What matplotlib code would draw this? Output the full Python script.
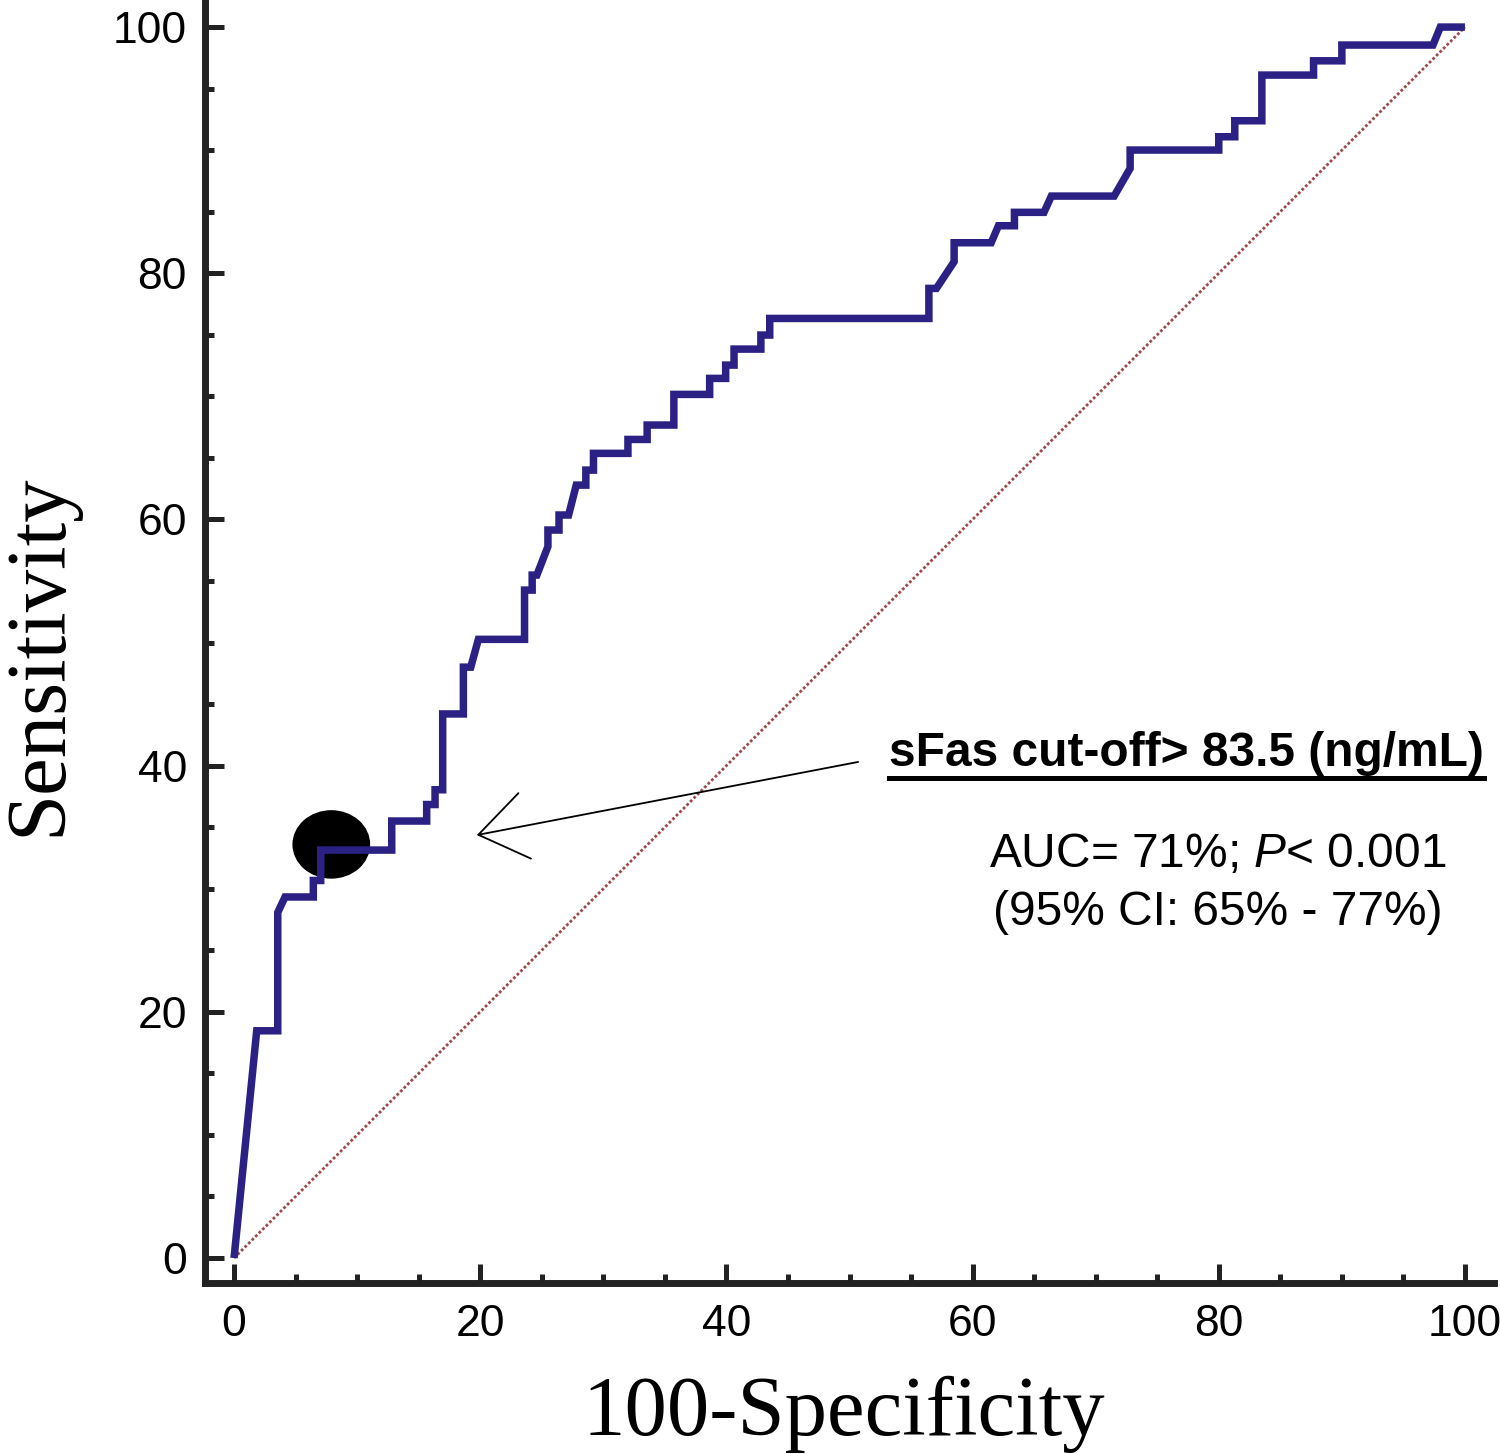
import matplotlib
matplotlib.use("Agg")
import matplotlib.pyplot as plt
from matplotlib.patches import Ellipse
from matplotlib.lines import Line2D

# ROC curve vertices (100-Specificity, Sensitivity)
fpr = [0, 1.84, 3.55, 3.55, 4.14, 6.44, 6.44, 7.04, 7.04, 12.81, 12.81, 15.65, 15.65,
       16.33, 16.33, 16.95, 16.95, 18.63, 18.63, 19.23, 19.85, 23.6, 23.6, 24.22, 24.22,
       24.6, 25.5, 25.5, 26.4, 26.4, 27.18, 27.8, 28.58, 28.58, 29.2, 29.2, 32.0, 32.0,
       33.56, 33.56, 35.73, 35.73, 38.64, 38.64, 39.94, 39.94, 40.62, 40.62, 42.8, 42.8,
       43.52, 43.52, 56.45, 56.45, 57.06, 58.5, 58.5, 61.51, 62.1, 63.4, 63.4, 65.8, 66.4,
       71.5, 72.8, 72.8, 80.0, 80.0, 81.3, 81.3, 83.5, 83.5, 87.7, 87.7, 90.0, 90.0, 97.4,
       98.0, 100.0]
tpr = [0, 18.46, 18.46, 28.07, 29.33, 29.33, 30.67, 30.67, 33.14, 33.14, 35.5, 35.5, 36.84,
       36.84, 38.04, 38.04, 44.2, 44.2, 48.0, 48.0, 50.26, 50.26, 54.26, 54.26, 55.48,
       55.48, 57.8, 59.14, 59.14, 60.36, 60.36, 62.79, 62.79, 64.01, 64.01, 65.37, 65.37,
       66.5, 66.5, 67.67, 67.67, 70.16, 70.16, 71.46, 71.46, 72.54, 72.54, 73.84, 73.84,
       74.98, 74.98, 76.33, 76.33, 78.77, 78.77, 80.94, 82.48, 82.48, 83.86, 83.86, 84.95,
       84.95, 86.27, 86.27, 88.52, 90.01, 90.01, 91.09, 91.09, 92.39, 92.39, 96.1, 96.1,
       97.26, 97.26, 98.54, 98.54, 100.0, 100.0]

ref_line = [0, 100]

# optimal cut-off point and annotation anchor
cutoff_x, cutoff_y = 7.9, 33.6
arrow_tip = (19.72, 34.36)
arrow_tail = (50.7, 40.3)

ticks_major = [0, 20, 40, 60, 80, 100]
ticks_minor = list(range(0, 101, 5))

title_text = "sFas cut-off> 83.5 (ng/mL)"
auc_text = "AUC= 71%; $P$< 0.001"
ci_text = "(95% CI: 65% - 77%)"

plt.rcParams['font.family'] = ['Liberation Sans', 'DejaVu Sans']
plt.rcParams['mathtext.fontset'] = 'custom'
plt.rcParams['mathtext.rm'] = 'Liberation Sans'
plt.rcParams['mathtext.it'] = 'Liberation Sans:italic'

W, H = 1500, 1454
fig = plt.figure(figsize=(W / 100, H / 100), dpi=100)
ax = fig.add_axes([205 / W, 171 / H, 1289 / W, 1283 / H])

ax.plot(ref_line, ref_line, color='#a04848', lw=2.0, linestyle=(0, (1, 0.8)), zorder=1)
ax.add_patch(Ellipse((cutoff_x, cutoff_y), width=6.2, height=5.45, color='black', zorder=2))
ax.plot(fpr, tpr, color='#2b2185', lw=5.4, solid_joinstyle='miter',
        solid_capstyle='butt', zorder=3)

ax.annotate('', xy=arrow_tip, xytext=arrow_tail,
            arrowprops=dict(arrowstyle='->,head_length=34,head_width=24',
                            mutation_scale=1, lw=1.3, color='black',
                            shrinkA=0, shrinkB=0))

ax.set_xlim(-2.36, 102.36)
ax.set_ylim(-2.03, 102.2)

for side in ['top', 'right']:
    ax.spines[side].set_visible(False)
for side in ['left', 'bottom']:
    ax.spines[side].set_linewidth(5)
    ax.spines[side].set_color('#222222')

ax.set_xticks(ticks_major)
ax.set_yticks(ticks_major)
ax.set_xticks(ticks_minor, minor=True)
ax.set_yticks(ticks_minor, minor=True)
ax.tick_params(which='major', direction='in', length=14, width=3.6, color='#222222',
               labelsize=32)
ax.tick_params(which='minor', direction='in', length=6.5, width=3.6, color='#222222')
ax.tick_params(axis='x', which='major', pad=15)
ax.tick_params(axis='y', which='major', pad=13)

ax.set_xlabel('100-Specificity', fontsize=61, family='Liberation Serif')
ax.xaxis.label.set_va('baseline')
ax.xaxis.set_label_coords(0.4957, -0.1185)
ax.set_ylabel('Sensitivity', fontsize=61, family='Liberation Serif')
ax.yaxis.label.set_va('baseline')
ax.yaxis.set_label_coords(-0.1125, 0.49)

t1 = ax.text(77.4, 40.0, title_text, fontsize=34.5, fontweight='bold', ha='center',
             va='baseline')
ax.text(79.9, 31.8, auc_text, fontsize=34.5, ha='center', va='baseline')
ax.text(79.9, 27.05, ci_text, fontsize=34.5, ha='center', va='baseline')

# underline for the cut-off title
fig.canvas.draw()
bb = t1.get_window_extent(fig.canvas.get_renderer())
inv = fig.transFigure.inverted()
x0, _ = inv.transform((bb.x0, 0))
x1, _ = inv.transform((bb.x1, 0))
uy = (H - 778) / H
fig.add_artist(Line2D([x0, x1], [uy, uy], color='black', lw=3.6,
                      transform=fig.transFigure))

fig.savefig('out.png', dpi=100)
